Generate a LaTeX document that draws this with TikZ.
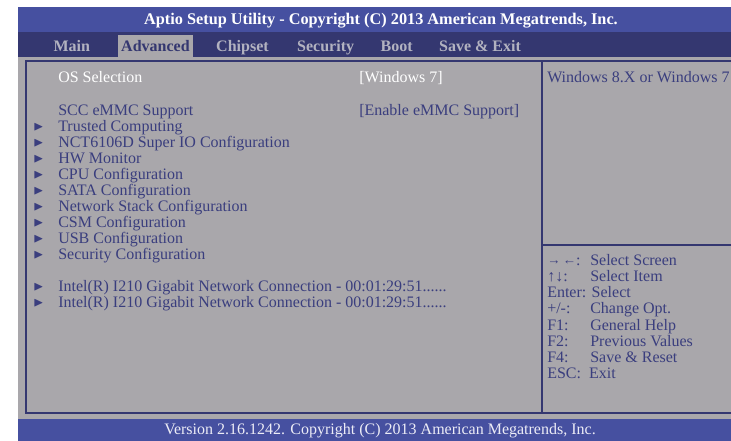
\documentclass[tikz,border=0pt]{standalone}
\usepackage{amssymb}
\usepackage{fontspec}
\setmainfont{Liberation Serif}
\usetikzlibrary{positioning}

\definecolor{titleblue}{RGB}{70,80,160}
\definecolor{menunavy}{RGB}{52,55,112}
\definecolor{panelgray}{RGB}{169,167,171}
\definecolor{textblue}{RGB}{58,62,126}
\definecolor{menugray}{RGB}{178,178,192}
\definecolor{footwhite}{RGB}{236,236,246}

\begin{document}
\begin{tikzpicture}[
    x=0.75pt, y=-0.75pt,
    node distance=12pt,
    txt/.style={font=\fontsize{12}{14}\selectfont, text=textblue, inner sep=0pt, text height=10.5pt, text depth=3pt, anchor=west},
    sel/.style={txt, text=white},
    sub/.style={txt, label={[text=textblue, inner sep=0pt, xshift=-10.5pt, font=\fontsize{10}{11}\selectfont]left:$\blacktriangleright$}},
    menu/.style={font=\fontsize{12}{14}\selectfont\bfseries, text=menugray, inner xsep=2.5pt, inner ysep=0pt, text height=10.5pt, text depth=3pt, minimum height=16.5pt},
    tab/.style={menu, fill=panelgray, text=menunavy},
    frame/.style={draw=menunavy, line width=1.1pt}
]
    \useasboundingbox (0,0) rectangle (731,441);
    \clip (0,0) rectangle (731,441);
    \fill[white] (0,0) rectangle (731,441);
    % bars and panels
    \fill[titleblue] (18,7) rectangle (760,32);
    \fill[menunavy] (18,32) rectangle (760,57);
    \fill[panelgray] (18,57) rectangle (760,419);
    \fill[titleblue] (18,419) rectangle (760,441);
    \draw[frame] (26,61) rectangle (760,413);
    \draw[frame] (542,61) -- (542,413);
    \draw[frame] (542,245) -- (760,245);

    \node[font=\fontsize{12.2}{14}\selectfont\bfseries, text=white] (title) at (381,21) {Aptio Setup Utility - Copyright (C) 2013 American Megatrends, Inc.};

    % menu
    \node[menu, anchor=west] (main) at (50,46.5) {Main};
    \node[tab, right=18pt of main] (advanced) {Advanced};
    \node[menu, right=14.5pt of advanced] (chipset) {Chipset};
    \node[menu, right=16pt of chipset] (security) {Security};
    \node[menu, right=14.5pt of security] (boot) {Boot};
    \node[menu, right=14.5pt of boot] (saveexit) {Save \& Exit};

    % settings
    \node[sel] (ossel) at (58,78) {OS Selection};
    \node[sel] (osval) at (359,78) {[Windows 7]};
    \node[txt] (emmc) at (58,111) {SCC eMMC Support};
    \node[txt] (emmcval) at (359,111) {[Enable eMMC Support]};
    \node[sub, below=of emmc.west, anchor=west] (trusted) {Trusted Computing};
    \node[sub, below=of trusted.west, anchor=west] (superio) {NCT6106D Super IO Configuration};
    \node[sub, below=of superio.west, anchor=west] (hwmon) {HW Monitor};
    \node[sub, below=of hwmon.west, anchor=west] (cpu) {CPU Configuration};
    \node[sub, below=of cpu.west, anchor=west] (sata) {SATA Configuration};
    \node[sub, below=of sata.west, anchor=west] (netstack) {Network Stack Configuration};
    \node[sub, below=of netstack.west, anchor=west] (csm) {CSM Configuration};
    \node[sub, below=of csm.west, anchor=west] (usb) {USB Configuration};
    \node[sub, below=of usb.west, anchor=west] (secconf) {Security Configuration};
    \node[sub, below=24pt of secconf.west, anchor=west] (lanA) {Intel(R) I210 Gigabit Network Connection - 00:01:29:51......};
    \node[sub, below=of lanA.west, anchor=west] (lanB) {Intel(R) I210 Gigabit Network Connection - 00:01:29:51......};

    % help
    \node[txt] (helptext) at (547,78) {Windows 8.X or Windows 7};
    \node[txt] (kscreen) at (547,261) {\raisebox{0.8pt}{\fontsize{10}{11}\selectfont →\,←}:};
    \node[txt, below=of kscreen.west, anchor=west] (kitem) {↑↓:};
    \node[txt, below=of kitem.west, anchor=west] (kenter) {Enter: Select};
    \node[txt, below=of kenter.west, anchor=west] (kopt) {+/-:};
    \node[txt, below=of kopt.west, anchor=west] (kfone) {F1:};
    \node[txt, below=of kfone.west, anchor=west] (kftwo) {F2:};
    \node[txt, below=of kftwo.west, anchor=west] (kffour) {F4:};
    \node[txt, below=of kffour.west, anchor=west] (kesc) {ESC:\hspace{6pt}Exit};
    \node[txt] (dscreen) at (590,261) {Select Screen};
    \node[txt, below=of dscreen.west, anchor=west] (ditem) {Select Item};
    \node[txt, below=24pt of ditem.west, anchor=west] (dopt) {Change Opt.};
    \node[txt, below=of dopt.west, anchor=west] (dfone) {General Help};
    \node[txt, below=of dfone.west, anchor=west] (dftwo) {Previous Values};
    \node[txt, below=of dftwo.west, anchor=west] (dffour) {Save \& Reset};

    \node[font=\fontsize{12}{14}\selectfont, text=footwhite] (footer) at (380,431) {Version 2.16.1242. Copyright (C) 2013 American Megatrends, Inc.};
\end{tikzpicture}
\end{document}
